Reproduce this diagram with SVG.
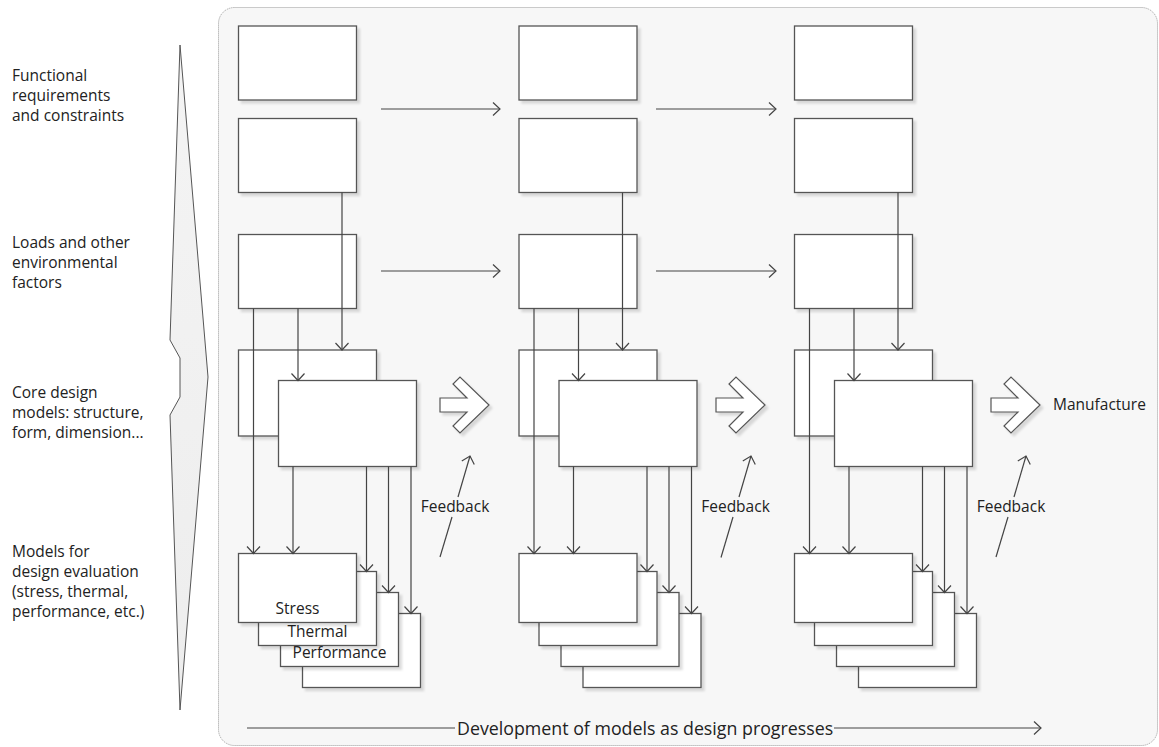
<svg xmlns="http://www.w3.org/2000/svg" width="1159" height="747" viewBox="0 0 1159 747">
<style>
.box{fill:#fff;stroke:#555;stroke-width:1.3;filter:url(#sh)}
.cn{fill:none;stroke:#444;stroke-width:1.2}
.arr{marker-end:url(#ah)}
.big{fill:#fff;stroke:#555;stroke-width:1.2;filter:url(#sh)}
text{font-family:"Open Sans","Liberation Sans",sans-serif;fill:#222;font-size:15.5px}
.mid{text-anchor:middle}
</style>
<defs>
<filter id="sh" x="-10%" y="-10%" width="130%" height="130%">
<feDropShadow dx="3" dy="3" stdDeviation="1" flood-color="#000" flood-opacity="0.13"/>
</filter>
<marker id="ah" viewBox="-9 -8 11 16" markerWidth="11" markerHeight="16" refX="0" refY="0" orient="auto" markerUnits="userSpaceOnUse">
<path d="M-7,-6.5 L0,0 L-7,6.5" fill="none" stroke="#444" stroke-width="1.2"/>
</marker>
<linearGradient id="sp" x1="0" y1="0" x2="0" y2="1">
<stop offset="0" stop-color="#f4f4f4"/><stop offset="1" stop-color="#ededed"/>
</linearGradient>
</defs>
<rect x="0" y="0" width="1159" height="747" fill="#fff"/>
<rect id="panel" x="218.5" y="7.5" width="939" height="738" rx="16" fill="#f7f7f7" stroke="#999" stroke-width="1" stroke-dasharray="1 1"/>
<g id="spear"><path d="M180,45 L208,377 L180,710 L170,415 L180,397 L180,358 L170,340 Z" fill="url(#sp)" stroke="#555" stroke-width="1"/></g>
<g id="labels">
<text x="12" y="81">Functional</text>
<text x="12" y="101">requirements</text>
<text x="12" y="121">and constraints</text>
<text x="12" y="248">Loads and other</text>
<text x="12" y="268">environmental</text>
<text x="12" y="288">factors</text>
<text x="12" y="398">Core design</text>
<text x="12" y="418">models: structure,</text>
<text x="12" y="438">form, dimension...</text>
<text x="12" y="557">Models for</text>
<text x="12" y="577">design evaluation</text>
<text x="12" y="597">(stress, thermal,</text>
<text x="12" y="617">performance, etc.)</text>
</g>
<!-- column 1 -->
<g id="c1-func1"><rect class="box" x="238.5" y="26" width="118" height="74"/></g>
<g id="c1-func2"><rect class="box" x="238.5" y="118.5" width="118" height="74"/></g>
<g id="c1-loads"><rect class="box" x="238.5" y="234.5" width="118" height="74"/></g>
<g id="c1-core1"><rect class="box" x="238.5" y="350" width="138" height="86"/></g>
<g id="c1-core2"><rect class="box" x="278.5" y="380.5" width="138" height="86"/></g>
<g id="c1-eval4"><rect class="box" x="302.5" y="613.5" width="118" height="74"/></g>
<g id="c1-perf"><rect class="box" x="280.5" y="592.5" width="118" height="74"/><text class="mid" x="339.5" y="658">Performance</text></g>
<g id="c1-thermal"><rect class="box" x="258.5" y="571.5" width="118" height="74"/><text class="mid" x="317.5" y="637">Thermal</text></g>
<g id="c1-stress"><rect class="box" x="238.5" y="553.5" width="118" height="69"/><text class="mid" x="297.5" y="613.5">Stress</text></g>
<g id="c1-next"><path class="big" d="M440,398 L467,398 L453,384 L460,377 L489,405 L460,433 L453,426 L467,412 L440,412 Z"/></g>
<g id="c1-feedback"><text class="mid" x="455" y="512">Feedback</text></g>
<!-- column 2 -->
<g id="c2-func1"><rect class="box" x="519" y="26" width="118" height="74"/></g>
<g id="c2-func2"><rect class="box" x="519" y="118.5" width="118" height="74"/></g>
<g id="c2-loads"><rect class="box" x="519" y="234.5" width="118" height="74"/></g>
<g id="c2-core1"><rect class="box" x="519" y="350" width="138" height="86"/></g>
<g id="c2-core2"><rect class="box" x="559" y="380.5" width="138" height="86"/></g>
<g id="c2-eval4"><rect class="box" x="583" y="613.5" width="118" height="74"/></g>
<g id="c2-eval3"><rect class="box" x="561" y="592.5" width="118" height="74"/></g>
<g id="c2-eval2"><rect class="box" x="539" y="571.5" width="118" height="74"/></g>
<g id="c2-eval1"><rect class="box" x="519" y="553.5" width="118" height="69"/></g>
<g id="c2-next"><path class="big" d="M716,398 L743,398 L729,384 L736,377 L765,405 L736,433 L729,426 L743,412 L716,412 Z"/></g>
<g id="c2-feedback"><text class="mid" x="735.5" y="512">Feedback</text></g>
<!-- column 3 -->
<g id="c3-func1"><rect class="box" x="794.5" y="26" width="118" height="74"/></g>
<g id="c3-func2"><rect class="box" x="794.5" y="118.5" width="118" height="74"/></g>
<g id="c3-loads"><rect class="box" x="794.5" y="234.5" width="118" height="74"/></g>
<g id="c3-core1"><rect class="box" x="794.5" y="350" width="138" height="86"/></g>
<g id="c3-core2"><rect class="box" x="834.5" y="380.5" width="138" height="86"/></g>
<g id="c3-eval4"><rect class="box" x="858.5" y="613.5" width="118" height="74"/></g>
<g id="c3-eval3"><rect class="box" x="836.5" y="592.5" width="118" height="74"/></g>
<g id="c3-eval2"><rect class="box" x="814.5" y="571.5" width="118" height="74"/></g>
<g id="c3-eval1"><rect class="box" x="794.5" y="553.5" width="118" height="69"/></g>
<g id="c3-next"><path class="big" d="M991,398 L1018,398 L1004,384 L1011,377 L1040,405 L1011,433 L1004,426 L1018,412 L991,412 Z"/></g>
<g id="c3-feedback"><text class="mid" x="1011" y="512">Feedback</text></g>
<g id="manufacture"><text x="1053" y="409.5">Manufacture</text></g>
<g id="progress"><text x="457" y="734.5" style="font-size:17.8px">Development of models as design progresses</text></g>
<g id="connectors">
<path class="cn arr" d="M381,109 H500"/>
<path class="cn arr" d="M381,271 H500"/>
<path class="cn arr" d="M656,109 H776"/>
<path class="cn arr" d="M656,271 H776"/>
<path class="cn arr" d="M342,192.5 V350"/>
<path class="cn arr" d="M253.5,308.5 V553.5"/>
<path class="cn arr" d="M298,308.5 V380.5"/>
<path class="cn arr" d="M293,466.5 V553.5"/>
<path class="cn arr" d="M366.5,466.5 V571.5"/>
<path class="cn arr" d="M388.5,466.5 V592.5"/>
<path class="cn arr" d="M411,466.5 V613.5"/>
<path class="cn arr" d="M622.5,192.5 V350"/>
<path class="cn arr" d="M534,308.5 V553.5"/>
<path class="cn arr" d="M578.5,308.5 V380.5"/>
<path class="cn arr" d="M573.5,466.5 V553.5"/>
<path class="cn arr" d="M647,466.5 V571.5"/>
<path class="cn arr" d="M669,466.5 V592.5"/>
<path class="cn arr" d="M691.5,466.5 V613.5"/>
<path class="cn arr" d="M898,192.5 V350"/>
<path class="cn arr" d="M809.5,308.5 V553.5"/>
<path class="cn arr" d="M854,308.5 V380.5"/>
<path class="cn arr" d="M849,466.5 V553.5"/>
<path class="cn arr" d="M922.5,466.5 V571.5"/>
<path class="cn arr" d="M944.5,466.5 V592.5"/>
<path class="cn arr" d="M967,466.5 V613.5"/>
<path class="cn" d="M440,557 L452,517"/>
<path class="cn arr" d="M458,497 L470,456"/>
<path class="cn" d="M721,557.5 L733,517"/>
<path class="cn arr" d="M739,497 L751,456"/>
<path class="cn" d="M996,557 L1008,517"/>
<path class="cn arr" d="M1014,497 L1026,456"/>
<path class="cn" d="M247,728 H455"/>
<path class="cn arr" d="M834,728 H1041"/>
</g>
</svg>
